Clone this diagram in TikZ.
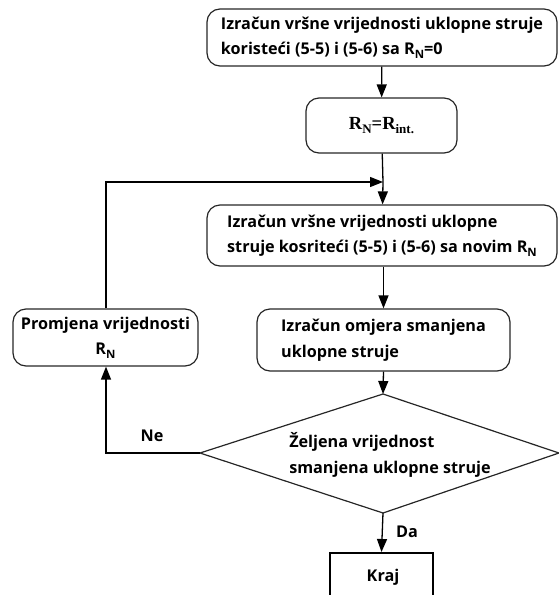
\documentclass[tikz,border=0pt]{standalone}
\usepackage{fontspec}
\setmainfont{Open Sans}
\newfontfamily\serifnew{Liberation Serif}
\usetikzlibrary{arrows.meta}
\newcommand{\RNsub}{R\raisebox{-0.4ex}{\fontsize{11.5}{12}\selectfont N}}
\begin{document}
\begin{tikzpicture}[x=1pt,y=-1pt,
  txt/.style={font=\fontsize{16.2}{25.5}\selectfont\bfseries},
  rbox/.style={draw=black!85, line width=1.2pt, rounded corners=13pt, inner sep=0pt, txt},
  flow/.style={line width=1.3pt, -{Triangle[length=13pt,width=10pt]}},
  endbox/.style={draw=black, line width=2pt, inner sep=0pt, txt}
]
\useasboundingbox (0,0) rectangle (558,595);

\node[rbox, align=left, minimum width=350pt, minimum height=57pt] (b1) at (382,37.5)
  {Izračun vršne vrijednosti uklopne struje\\koristeći (5-5) i (5-6) sa \RNsub=0};
\node[rbox, minimum width=151pt, minimum height=55pt, font=\serifnew\fontsize{18.5}{20}\selectfont\bfseries] (b2) at (381.5,125.5)
  {R\raisebox{-0.4ex}{\fontsize{13}{14}\selectfont N}=R\raisebox{-0.4ex}{\fontsize{13}{14}\selectfont int.}};
\node[rbox, align=left, minimum width=350pt, minimum height=61pt] (b3) at (382,235.5)
  {Izračun vršne vrijednosti uklopne\\struje kosriteći (5-5) i (5-6) sa novim \RNsub};
\node[rbox, align=left, minimum width=253pt, minimum height=62pt] (b4) at (383.5,340)
  {Izračun omjera smanjena\\uklopne struje};
\node[rbox, align=center, minimum width=185pt, minimum height=57pt] (b5) at (105.5,337.5)
  {Promjena vrijednosti\\\RNsub};

% decision diamond
\coordinate (dt) at (383,394);
\coordinate (dl) at (200,453);
\coordinate (dr) at (559,453);
\coordinate (db) at (383,513);
\draw[draw=black!85, line width=1.2pt] (dt) -- (dr) -- (db) -- (dl) -- cycle;
\node[txt, align=left, inner sep=0pt] (dtext) at (390,455)
  {Željena vrijednost\\smanjena uklopne struje};

\node[endbox, minimum width=103pt, minimum height=60pt, anchor=north] (kraj) at (381.5,552) {};
\node[txt, inner sep=0pt] (krajt) at (383,577) {Kraj};

% connectors
\coordinate (loopc) at (383,182);
\draw[flow] (b1) -- (b2);
\draw[line width=1.3pt] (b2) -- (loopc);
\draw[flow] (loopc) -- (b3);
\draw[flow] (b3.south -| b4) -- (b4.north);
\draw[flow] (b4.south) -- (dt);
\draw[flow] (db) -- (kraj.north);
\coordinate (necorner) at (106,453);
\draw[flow] (dl) -- (necorner) -- (b5.south -| necorner);
\coordinate (loopup) at (106,182);
\draw[flow] (b5.north -| loopup) -- (loopup) -- (loopc);

\node[txt, inner sep=0pt] (ne) at (152,436) {Ne};
\node[txt, inner sep=0pt] (da) at (407,532) {Da};
\end{tikzpicture}
\end{document}
